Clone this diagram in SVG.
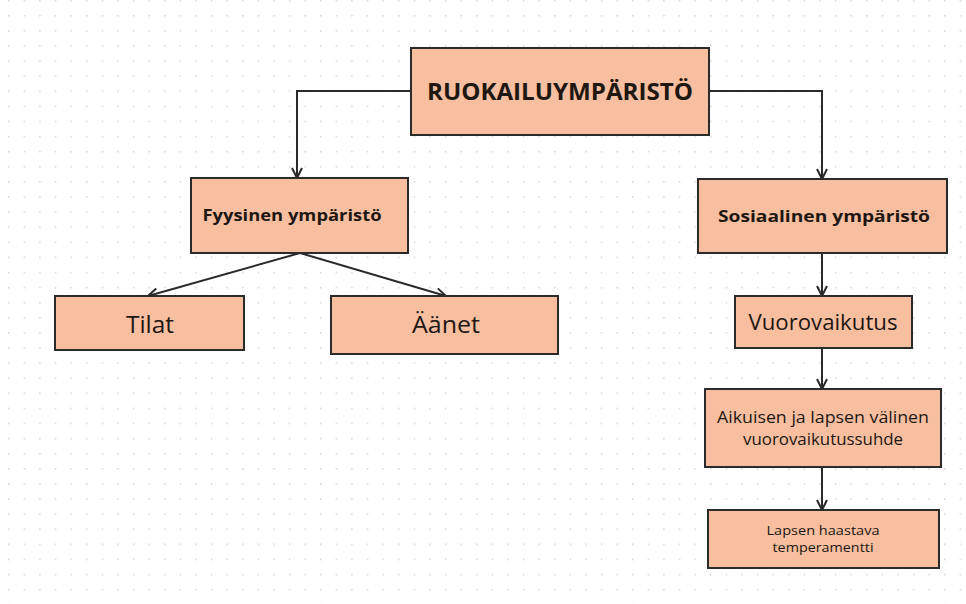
<svg xmlns="http://www.w3.org/2000/svg" width="966" height="604" viewBox="0 0 966 604">
<defs>
<pattern id="dots" x="8" y="15" width="15.6" height="15.1" patternUnits="userSpaceOnUse">
<circle cx="0.8" cy="0.8" r="0.8" fill="#cdcdcd"/>
</pattern>
<marker id="arr" viewBox="0 0 12 12" refX="11" refY="6" markerWidth="12" markerHeight="12" markerUnits="userSpaceOnUse" orient="auto">
<path d="M1,1 L11,6 L1,11" fill="none" stroke="#2a2a2a" stroke-width="2"/>
</marker>
<style>
.box{fill:#F7BFA0;stroke:#2b2b2b;stroke-width:2}
.t{font-family:"Open Sans","Liberation Sans",sans-serif;fill:#1e1712;text-anchor:middle}
.m{font-weight:500}
.b{font-weight:bold}
.c{fill:none;stroke:#2a2a2a;stroke-width:2;marker-end:url(#arr)}
</style>
</defs>
<rect width="966" height="604" fill="#ffffff"/>
<rect width="966" height="604" fill="url(#dots)"/>
<g id="connectors">
<path class="c" d="M411,91 H297 V178"/>
<path class="c" d="M709,91 H822 V179"/>
<path class="c" d="M300,253 L148,296"/>
<path class="c" d="M300,253 L446,296"/>
<path class="c" d="M822,253 V296"/>
<path class="c" d="M822,348 V389"/>
<path class="c" d="M822,467 V510"/>
</g>
<g id="root">
<rect class="box" x="411" y="48" width="298" height="87"/>
<text class="t b" x="560" y="100" font-size="24" textLength="266" lengthAdjust="spacingAndGlyphs">RUOKAILUYMPÄRISTÖ</text>
</g>
<g id="fyysinen">
<rect class="box" x="191" y="178" width="217" height="75"/>
<text class="t b" x="292" y="221" font-size="16" textLength="179" lengthAdjust="spacingAndGlyphs">Fyysinen ympäristö</text>
</g>
<g id="tilat">
<rect class="box" x="55" y="296" width="189" height="54"/>
<text class="t m" x="150" y="333" font-size="24" textLength="48" lengthAdjust="spacingAndGlyphs">Tilat</text>
</g>
<g id="aanet">
<rect class="box" x="331" y="296" width="227" height="58"/>
<text class="t m" x="446" y="333" font-size="24" textLength="68" lengthAdjust="spacingAndGlyphs">Äänet</text>
</g>
<g id="sosiaalinen">
<rect class="box" x="698" y="179" width="249" height="74"/>
<text class="t b" x="824" y="222" font-size="16" textLength="212" lengthAdjust="spacingAndGlyphs">Sosiaalinen ympäristö</text>
</g>
<g id="vuorovaikutus">
<rect class="box" x="735" y="296" width="177" height="52"/>
<text class="t m" x="823" y="330" font-size="22" textLength="149" lengthAdjust="spacingAndGlyphs">Vuorovaikutus</text>
</g>
<g id="aikuisen">
<rect class="box" x="705" y="389" width="236" height="78"/>
<text class="t m" x="823" y="423" font-size="16" textLength="212" lengthAdjust="spacingAndGlyphs">Aikuisen ja lapsen välinen</text>
<text class="t m" x="823" y="445" font-size="16" textLength="160" lengthAdjust="spacingAndGlyphs">vuorovaikutussuhde</text>
</g>
<g id="lapsen">
<rect class="box" x="708" y="510" width="231" height="58"/>
<text class="t m" x="823" y="535" font-size="12.5" textLength="113" lengthAdjust="spacingAndGlyphs">Lapsen haastava</text>
<text class="t m" x="823" y="552" font-size="12.5" textLength="101" lengthAdjust="spacingAndGlyphs">temperamentti</text>
</g>
</svg>
